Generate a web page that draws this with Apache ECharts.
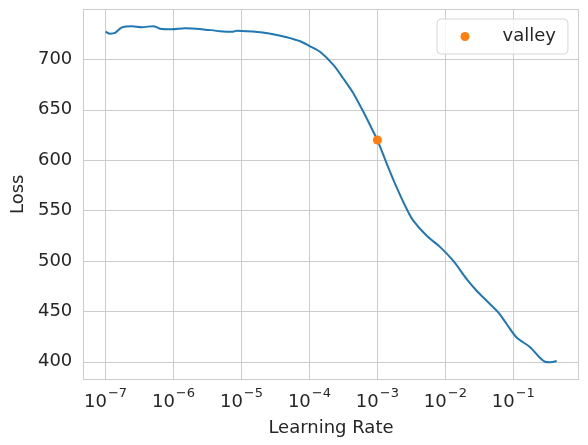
<!DOCTYPE html>
<html>
<head>
<meta charset="utf-8">
<script src="https://cdn.jsdelivr.net/npm/echarts@6/dist/echarts.min.js"></script>
<style>
html,body{margin:0;padding:0;background:#fff;}
#chart{width:588px;height:445px;}
</style>
</head>
<body>
<div id="chart"></div>
<script>
// Learning rates (x) and loss values (y)
const learningRates = [
  1.0e-7, 1.17e-7, 1.38e-7, 1.74e-7, 2.44e-7, 3.42e-7, 5.06e-7, 6.35e-7, 9.45e-7,
  1.48e-6, 2.61e-6, 4.84e-6, 7.52e-6, 8.53e-6, 1.88e-5, 2.92e-5, 4.64e-5, 7.27e-5,
  1.02e-4, 1.43e-4, 2.25e-4, 3.15e-4, 4.42e-4, 6.21e-4, 8.24e-4, 1.0e-3, 1.37e-3,
  1.92e-3, 2.70e-3, 3.37e-3, 5.31e-3, 8.33e-3, 1.31e-2, 2.06e-2, 2.88e-2, 4.05e-2,
  6.0e-2, 7.96e-2, 0.112, 0.175, 0.246, 0.292, 0.345, 0.434
];
const losses = [
  727.5, 725.5, 726.2, 731.8, 733, 732, 733, 730.5, 730,
  731, 730, 728, 727.5, 728.5, 727, 725, 722, 718,
  713, 707.5, 694.5, 681, 666.5, 648, 631.5, 620, 596.7,
  573, 551.5, 540, 525, 514, 500, 482, 470.5, 460.5,
  449, 437.5, 424, 414.7, 404, 400, 399.5, 400.7
];
const valleyLr = [1.0e-3];
const valleyLoss = [620];
const yTicks = [400, 450, 500, 550, 600, 650, 700];

const textColor = '#262626';
const gridColor = '#cccccc';
const fontFamily = 'DejaVu Sans';

const chart = echarts.init(document.getElementById('chart'), null, {renderer: 'canvas'});
const supMap = {'-': '\u2212', '0':'0','1':'1','2':'2','3':'3','4':'4','5':'5','6':'6','7':'7','8':'8','9':'9'};

chart.setOption({
  backgroundColor: '#ffffff',
  animation: false,
  grid: {left: 83.3, right: 9.4, top: 9.3, bottom: 65.7, containLabel: false},
  legend: {
    data: ['valley'],
    left: 437, top: 19,
    padding: [8.5, 12, 8.5, 23.5],
    itemWidth: 9, itemHeight: 9,
    icon: 'circle',
    backgroundColor: 'rgba(255,255,255,0.8)',
    borderColor: '#d6d6d6', borderWidth: 1, borderRadius: 4,
    formatter: function (name) { return '{gap|}{t|' + name + '}'; },
    textStyle: {
      fontFamily: fontFamily, fontSize: 18, color: textColor,
      rich: {
        gap: {width: 28},
        t: {fontFamily: fontFamily, fontSize: 18, color: textColor}
      }
    }
  },
  xAxis: {
    type: 'log',
    logBase: 10,
    min: Math.pow(10, -7.327),
    max: Math.pow(10, -0.04),
    splitNumber: 7,
    name: 'Learning Rate',
    nameLocation: 'middle',
    nameGap: 40,
    nameTextStyle: {fontFamily: fontFamily, fontSize: 18, color: textColor},
    axisLine: {show: true, lineStyle: {color: gridColor, width: 1}},
    axisTick: {show: false},
    minorTick: {show: false},
    splitLine: {show: true, lineStyle: {color: gridColor, width: 1}},
    axisLabel: {
      showMinLabel: false, showMaxLabel: false,
      margin: 8,
      fontFamily: fontFamily, fontSize: 18, color: textColor,
      formatter: function (v) {
        const e = Math.round(Math.log10(v));
        const s = String(e).split('').map(c => supMap[c]).join('');
        return '{base|10}{sup|' + s + '}';
      },
      rich: {
        base: {fontFamily: fontFamily, fontSize: 18, color: textColor, lineHeight: 24, verticalAlign: 'bottom'},
        sup: {fontFamily: fontFamily, fontSize: 13, color: textColor, lineHeight: 24, verticalAlign: 'top', padding: [0,0,0,1]}
      }
    }
  },
  yAxis: {
    type: 'value',
    min: 382.6,
    max: 749.7,
    splitNumber: 7,
    name: 'Loss',
    nameLocation: 'middle',
    nameGap: 48,
    nameTextStyle: {fontFamily: fontFamily, fontSize: 18, color: textColor},
    axisLine: {show: true, lineStyle: {color: gridColor, width: 1}},
    axisTick: {show: false},
    splitLine: {show: true, lineStyle: {color: gridColor, width: 1}},
    axisLabel: {
      showMinLabel: false, showMaxLabel: false,
      margin: 11,
      fontFamily: fontFamily, fontSize: 18, color: textColor,
      formatter: function (v) { return yTicks.indexOf(Math.round(v)) >= 0 ? String(Math.round(v)) : ''; }
    }
  },
  series: [
    {
      name: 'loss',
      type: 'line',
      data: learningRates.map((lr, i) => [lr, losses[i]]),
      showSymbol: false,
      symbol: 'none',
      smooth: 0.3,
      lineStyle: {color: '#1f77b4', width: 2},
      itemStyle: {color: '#1f77b4'},
      z: 2
    },
    {
      name: 'valley',
      type: 'scatter',
      data: valleyLr.map((lr, i) => [lr, valleyLoss[i]]),
      symbol: 'circle',
      symbolSize: 9,
      itemStyle: {color: '#ff7f0e', opacity: 1},
      z: 3
    }
  ]
});
</script>
</body>
</html>
